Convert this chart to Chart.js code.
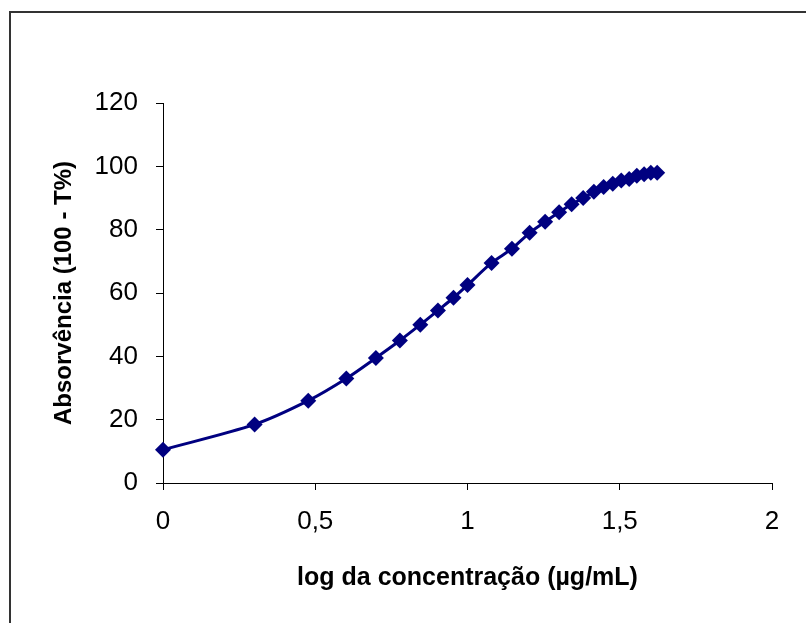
<!DOCTYPE html>
<html>
<head>
<meta charset="utf-8">
<script src="https://cdn.jsdelivr.net/npm/chart.js@4.4.1/dist/chart.umd.min.js"></script>
<style>
    body { margin: 0; background: #fff; }
    #wrap { position: relative; width: 806px; height: 623px; overflow: hidden; }
    #frame { position: absolute; left: 9px; top: 11px; width: 900px; height: 700px;
             border-left: 2px solid #333; border-top: 2px solid #333; }
    canvas { position: absolute; left: 0; top: 0; }
</style>
</head>
<body>
<div id="wrap">
    <div id="frame"></div>
    <canvas id="curve" width="806" height="623"></canvas>
</div>
<script>
// log da concentração (µg/mL)
const logConc = [0, 0.301, 0.477, 0.602, 0.699, 0.778, 0.845, 0.903, 0.954, 1.0,
                 1.079, 1.146, 1.204, 1.255, 1.301, 1.342, 1.380, 1.415, 1.447,
                 1.477, 1.505, 1.531, 1.556, 1.580, 1.602, 1.623];
// Absorvência (100 - T%)
const absorb = [10.5, 18.5, 26, 33, 39.5, 45, 50, 54.5, 58.5, 62.5,
                69.5, 74, 79, 82.5, 85.5, 88, 90, 92, 93.5,
                94.5, 95.5, 96, 97, 97.5, 98, 98];
const xTickLabels = ['0', '0,5', '1', '1,5', '2'];
const yTickLabels = ['0', '20', '40', '60', '80', '100', '120'];

const navy = '#000080';
const points = logConc.map((x, i) => ({ x: x, y: absorb[i] }));

new Chart(document.getElementById('curve'), {
    type: 'line',
    data: {
        datasets: [{
            data: points,
            borderColor: navy,
            backgroundColor: navy,
            borderWidth: 3,
            tension: 0.3,
            pointStyle: 'rectRot',
            pointRadius: 8,
            pointBorderWidth: 0,
            clip: false,
            fill: false
        }]
    },
    options: {
        responsive: false,
        animation: false,
        layout: { padding: { top: 103, right: 34, bottom: 0, left: 0 } },
        plugins: { legend: { display: false }, tooltip: { enabled: false } },
        scales: {
            x: {
                type: 'linear',
                min: 0, max: 2,
                afterFit: s => { s.height = 140; },
                ticks: {
                    stepSize: 0.5,
                    color: '#000',
                    padding: 16,
                    maxRotation: 0,
                    font: { family: 'Liberation Sans, Arial', size: 26 },
                    callback: (v, i) => xTickLabels[i]
                },
                grid: { display: true, drawOnChartArea: false, drawTicks: true, tickLength: 7, color: '#000' },
                border: { display: true, color: '#000', width: 1 },
                title: {
                    display: true,
                    text: 'log da concentração (µg/mL)',
                    color: '#000',
                    padding: { top: 0, bottom: 30 },
                    font: { family: 'Liberation Sans, Arial', size: 25, weight: 'bold' }
                }
            },
            y: {
                min: 0, max: 120,
                afterFit: s => { s.width = 163; },
                ticks: {
                    stepSize: 20,
                    color: '#000',
                    padding: 18,
                    font: { family: 'Liberation Sans, Arial', size: 26 },
                    callback: (v, i) => yTickLabels[i]
                },
                grid: { display: true, drawOnChartArea: false, drawTicks: true, tickLength: 7, color: '#000' },
                border: { display: true, color: '#000', width: 1 },
                title: {
                    display: true,
                    text: 'Absorvência (100 - T%)',
                    color: '#000',
                    padding: { top: 50, bottom: 0 },
                    font: { family: 'Liberation Sans, Arial', size: 24, weight: 'bold' }
                }
            }
        }
    }
});
</script>
</body>
</html>
